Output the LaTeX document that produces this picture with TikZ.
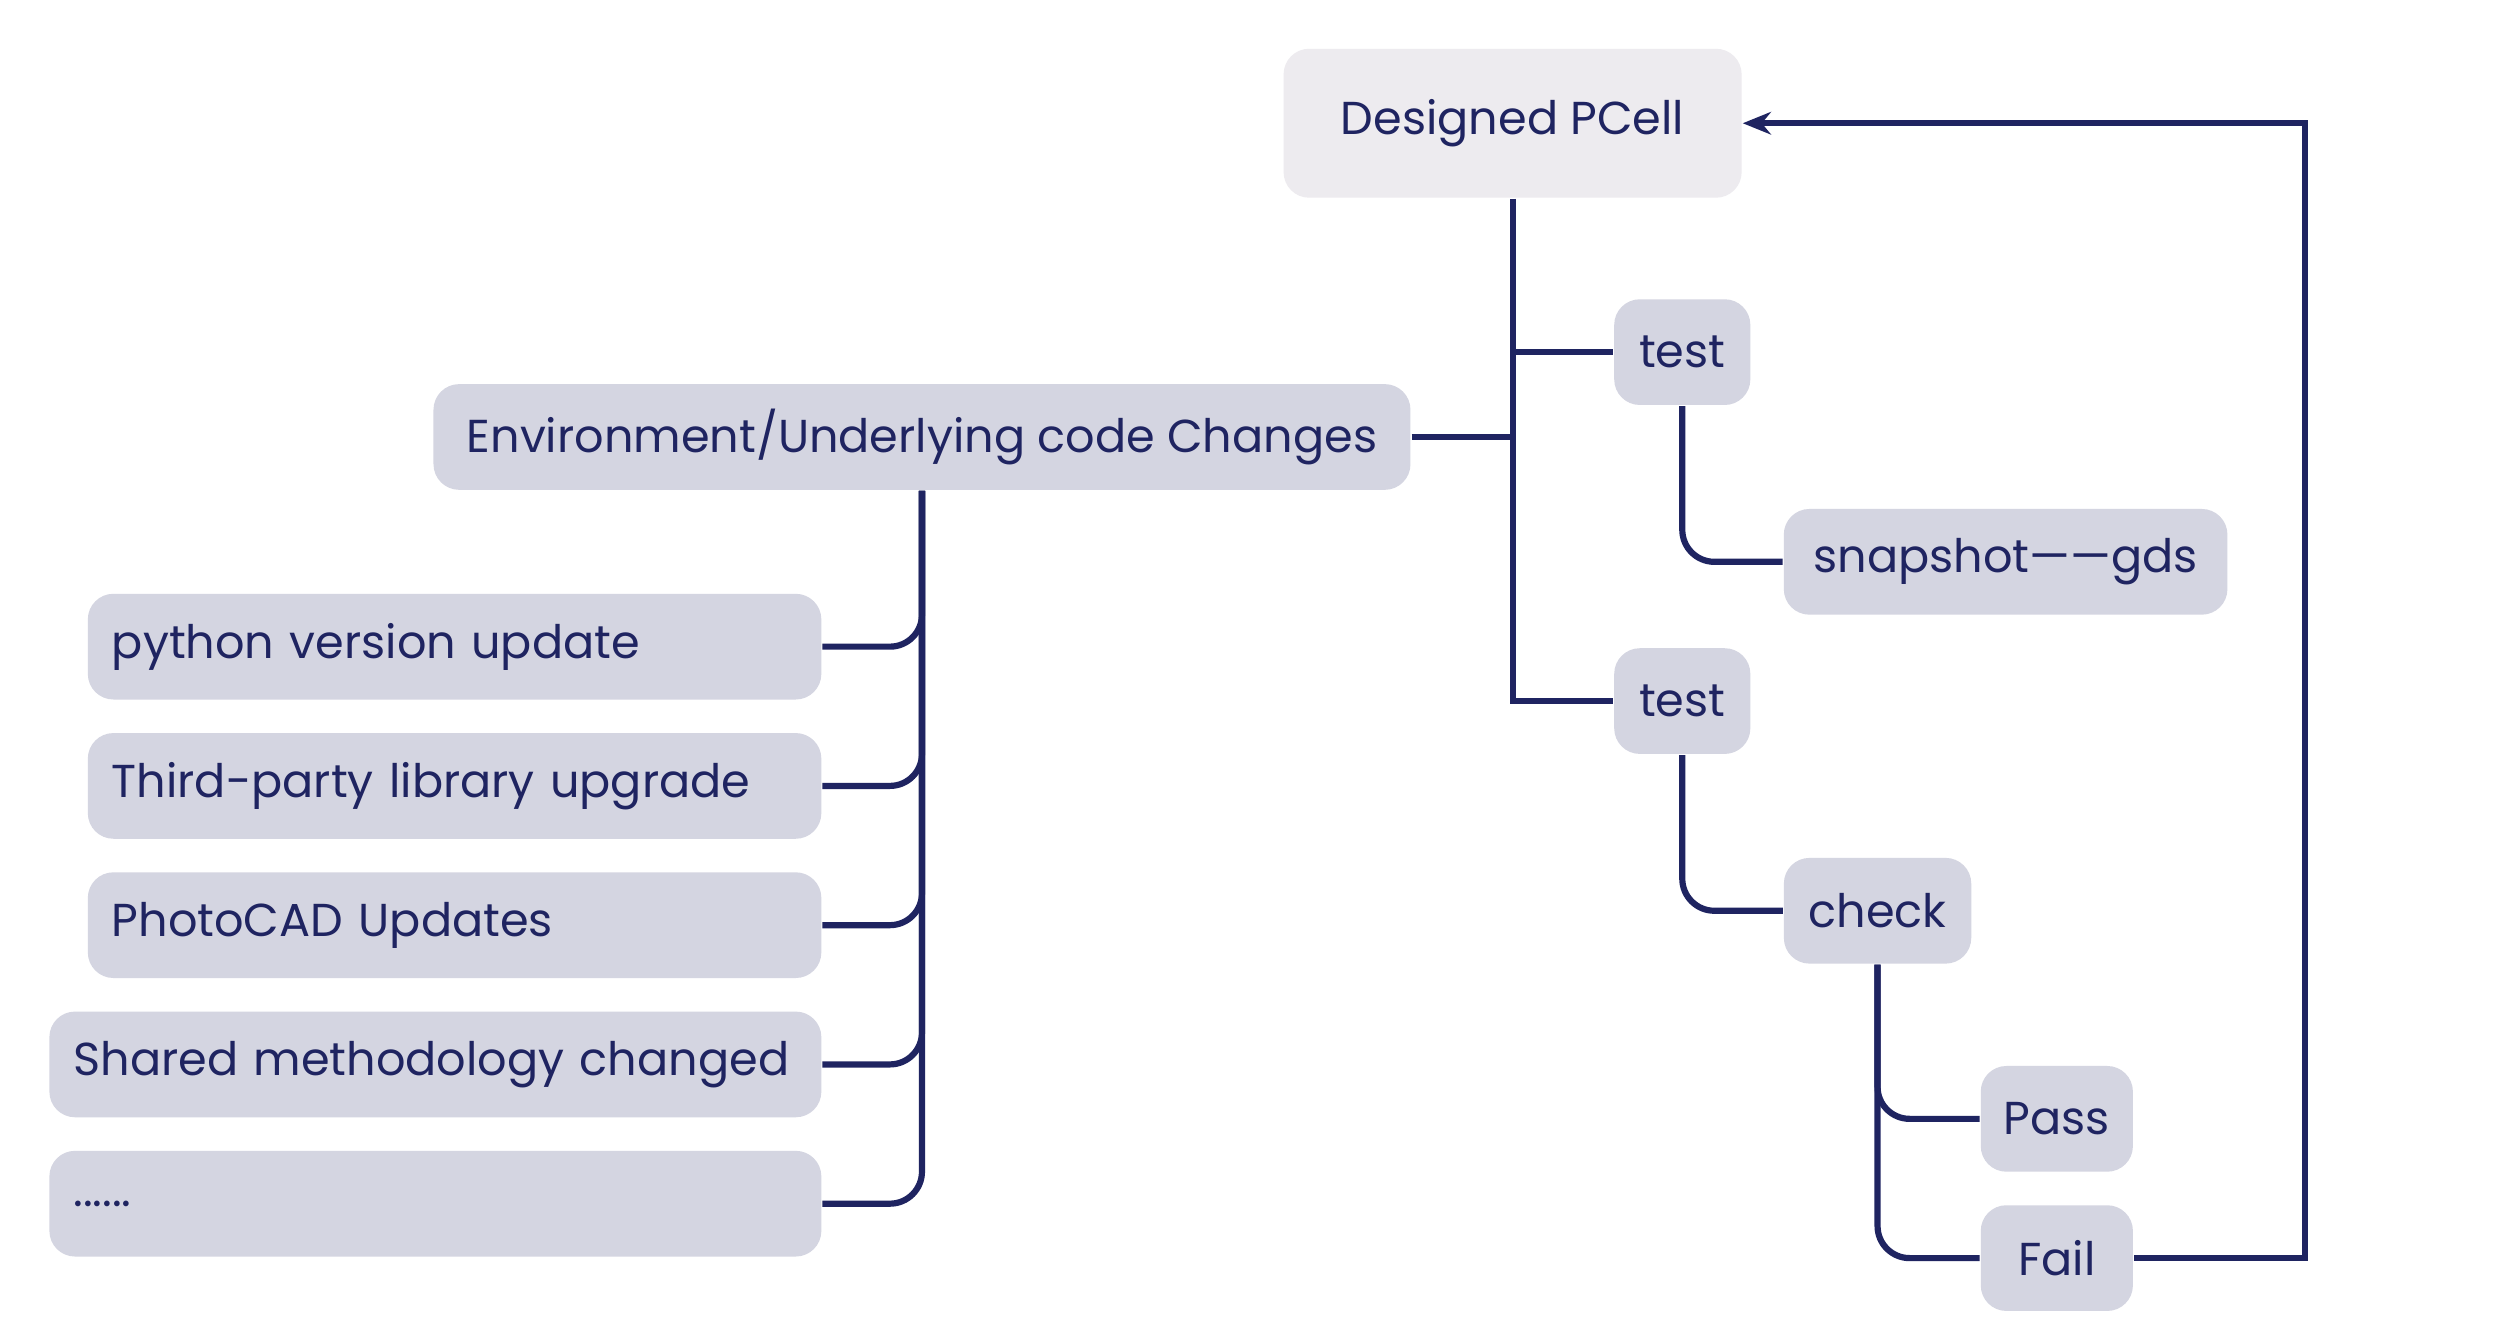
\documentclass[tikz,border=0pt]{standalone}
\usepackage{fontspec}
\setmainfont{Poppins}
\usetikzlibrary{arrows.meta}
\definecolor{navy}{HTML}{1F2461}
\definecolor{boxf}{HTML}{D4D5E1}
\definecolor{topf}{HTML}{EDEBEF}
\begin{document}
\begin{tikzpicture}[x=0.01cm,y=-0.01cm,
  box/.style={fill=boxf,rounded corners=0.16cm,minimum height=0.66cm,text=navy,font=\fontsize{8.2}{10}\selectfont,inner sep=0pt,anchor=center},
  lbox/.style={box,align=left,inner xsep=0.15cm},
  ln/.style={draw=navy,line width=1.1pt,rounded corners=0.2cm}]
\useasboundingbox (0,0) rectangle (1560,837);
\fill[white] (0,0) rectangle (1560,837);
\node[box,fill=topf,minimum width=2.86cm,minimum height=0.93cm] (top) at (945,77) {Designed PCell};
\node[box,minimum width=0.85cm] (t1) at (1051,220) {test};
\node[box,minimum width=2.77cm] (snap) at (1253,351) {snapshot——gds};
\node[box,minimum width=0.85cm] (t2) at (1051,438) {test};
\node[box,minimum width=1.17cm] (chk) at (1173,569) {check};
\node[box,minimum width=0.95cm] (pass) at (1285,699) {Pass};
\node[box,minimum width=0.95cm] (fail) at (1285,786) {Fail};
\node[box,minimum width=6.10cm] (env) at (576,273) {Environment/Underlying code Changes};
\node[lbox,text width=4.28cm,minimum width=4.58cm] (py) at (284,404) {python version update};
\node[lbox,text width=4.28cm,minimum width=4.58cm] (tp) at (284,491) {Third-party library upgrade};
\node[lbox,text width=4.28cm,minimum width=4.58cm] (pc) at (284,578) {PhotoCAD Updates};
\node[lbox,text width=4.52cm,minimum width=4.82cm] (sh) at (272,665) {Shared methodology changed};
\node[lbox,text width=4.52cm,minimum width=4.82cm,text depth=-0.12cm] (dots) at (272,752) {......};
\coordinate (j) at (945,438);
\draw[ln,rounded corners=0] (top.south) -- (j) -- (t2.west);
\draw[ln,rounded corners=0] (945,220) -- (t1.west);
\draw[ln,rounded corners=0] (env.east) -- (945,273);
\draw[ln] (t1.south) |- (snap.west);
\draw[ln] (t2.south) |- (chk.west);
\draw[ln] (chk.south) |- (pass.west);
\draw[ln] (chk.south) |- (fail.west);
\foreach \n in {py,tp,pc,sh,dots} \draw[ln] (env.south) |- (\n.east);
\draw[ln,rounded corners=0,-{Stealth[length=5pt,width=4pt]}] (fail.east) -- (1440,786) -- (1440,77) -- (top.east);
\end{tikzpicture}
\end{document}
